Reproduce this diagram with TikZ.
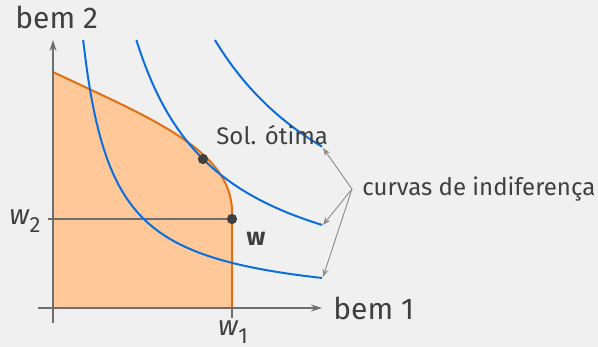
\documentclass[tikz,border=0pt]{standalone}
\usepackage{fontspec}
\setmainfont{Fira Sans}
\usetikzlibrary{arrows.meta,positioning}
\definecolor{bggray}{HTML}{F0F0F0}
\definecolor{txtgray}{HTML}{404040}
\definecolor{axgray}{HTML}{6E6E6E}
\definecolor{notegray}{HTML}{8C8C8C}
\definecolor{icblue}{HTML}{0A6EDC}
\definecolor{budline}{HTML}{E07010}
\definecolor{budfill}{HTML}{FFC898}

\begin{document}
\begin{tikzpicture}[x=0.5pt, y=-0.5pt,
  axis/.style={draw=axgray, line width=0.6pt},
  icurve/.style={draw=icblue, line width=1pt},
  note/.style={draw=notegray, line width=0.45pt, -{Stealth[length=4pt, width=3pt]}},
  lbl/.style={text=txtgray, inner sep=0pt, font=\fontsize{12}{14}\selectfont},
  biglbl/.style={text=txtgray, inner sep=0pt, font=\fontsize{15}{18}\selectfont},
  dot/.style={circle, fill=txtgray, inner sep=0pt, minimum size=5pt}]
  \fill[bggray] (0,0) rectangle (598,347);
  \useasboundingbox (0,0) rectangle (598,347);
  % budget set
  \fill[budfill] (53,308) -- (53,72) .. controls (150,118) and (232,150) .. (232,212)
    -- (232,308) -- cycle;
  \draw[budline, line width=1pt] (53,72) .. controls (150,118) and (232,150) .. (232,212)
    -- (232,308);
  % axes
  \coordinate (o) at (53,308);
  \coordinate (ybot) at (53,323);
  \coordinate (ytop) at (53,40);
  \coordinate (xleft) at (38,308);
  \coordinate (xright) at (322,308);
  \draw[axis, -{Stealth[length=5.5pt, width=3.5pt]}] (ybot) -- (ytop);
  \draw[axis, -{Stealth[length=5.5pt, width=3.5pt]}] (xleft) -- (xright);
  \node[biglbl, anchor=base west] (ylbl) at (15,29) {bem 2};
  \node[biglbl, anchor=base west] (xlbl) at (333,319) {bem 1};
  % bundle w
  \node[dot] (wpt) at (232,219) {};
  \node[dot] (opt) at (203,159) {};
  \coordinate (w2l) at (48,219);
  \coordinate (w1t) at (232,318);
  \draw[axis] (w2l) -- (wpt);
  \draw[axis] (232,308) -- (w1t);
  \node[text=txtgray, inner sep=0pt, anchor=east, font=\fontsize{14}{16}\selectfont]
    (w2lbl) at (41,221) {\textit{w}\raisebox{-0.55ex}{\fontsize{11}{12}\selectfont 2}};
  \node[text=txtgray, inner sep=0pt, anchor=north, font=\fontsize{14}{16}\selectfont]
    (w1lbl) at (233,320) {\textit{w}\raisebox{-0.55ex}{\fontsize{11}{12}\selectfont 1}};
  \node[lbl, font=\bfseries\fontsize{12.5}{14}\selectfont] (wlbl) at (256,239) {w};
  % indifference curves u*v = 100*k
  \begin{scope}[shift={(o)}]
    \foreach \k in {80.8,223.5,434}
      \draw[icurve] plot[smooth, samples=60, domain={\k/2.68}:269] (\x, {-100*(\k/\x)});
  \end{scope}
  \node[dot] at (wpt) {};
  \node[dot] at (opt) {};
  % labels
  \node[lbl, anchor=base west] (optlbl) at (216,145) {Sol. ótima};
  \node[lbl, anchor=base west] (iclbl) at (362,195) {curvas de indiferença};
  \coordinate (src) at (352,189);
  \coordinate (ic1) at (323,148);
  \coordinate (ic2) at (323,225);
  \coordinate (ic3) at (323,277);
  \foreach \t in {ic1,ic2,ic3}
    \draw[note] (src) -- (\t);
\end{tikzpicture}
\end{document}
